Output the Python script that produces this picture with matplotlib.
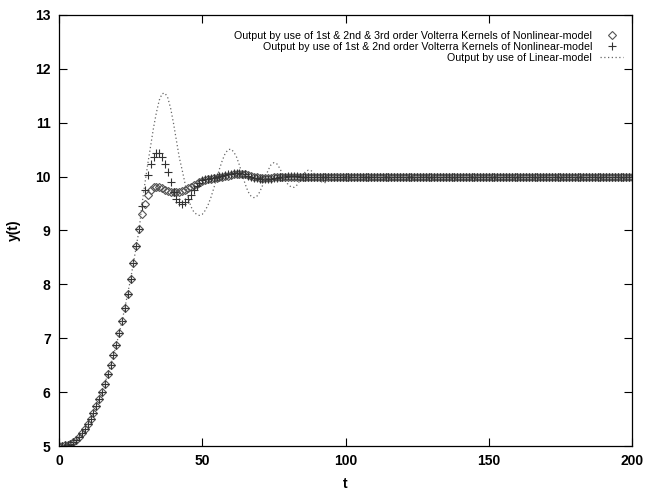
import numpy as np
import matplotlib
matplotlib.use("Agg")
import matplotlib.pyplot as plt

plt.rcParams['font.family'] = ['Liberation Sans', 'DejaVu Sans']

# sample times
t = np.arange(0, 201)

# common start of all three responses, t = 0..28
rise = [5.00, 5.00, 5.01, 5.02, 5.04, 5.07, 5.12, 5.17, 5.24, 5.32,
        5.41, 5.51, 5.62, 5.74, 5.87, 6.01, 6.16, 6.33, 6.50, 6.68,
        6.88, 7.09, 7.32, 7.57, 7.83, 8.10, 8.40, 8.71, 9.03]

# t = 29..110, per model
third_order = [9.30, 9.50, 9.66, 9.75, 9.80, 9.81, 9.80, 9.78, 9.76, 9.74,
               9.72, 9.71, 9.71, 9.72, 9.73, 9.75, 9.78, 9.81, 9.84, 9.87,
               9.90, 9.92, 9.94, 9.95, 9.96, 9.97, 9.98, 9.99, 10.00, 10.01,
               10.02, 10.03, 10.04, 10.05, 10.05, 10.05, 10.04, 10.03, 10.02, 10.00,
               9.99, 9.98, 9.98, 9.98, 9.98, 9.98, 9.99, 9.99, 10.00, 10.00,
               10.00, 10.00, 10.00, 10.00, 10.00, 10.00, 10.00, 10.00, 10.00, 10.00,
               10.00, 10.00, 10.00, 10.00, 10.00, 10.00, 10.00, 10.00, 10.00, 10.00,
               10.00, 10.00, 10.00, 10.00, 10.00, 10.00, 10.00, 10.00, 10.00, 10.00,
               10.00, 10.00]

second_order = [9.45, 9.76, 10.03, 10.23, 10.36, 10.43, 10.43, 10.36, 10.24, 10.08,
                9.90, 9.72, 9.58, 9.52, 9.50, 9.52, 9.58, 9.66, 9.75, 9.83,
                9.89, 9.93, 9.95, 9.96, 9.97, 9.98, 10.00, 10.01, 10.02, 10.03,
                10.04, 10.05, 10.06, 10.06, 10.06, 10.05, 10.04, 10.02, 10.00, 9.98,
                9.97, 9.96, 9.96, 9.96, 9.96, 9.96, 9.97, 9.98, 9.99, 10.00,
                10.00, 10.01, 10.01, 10.01, 10.01, 10.00, 10.00, 10.00, 10.00, 10.00,
                10.00, 10.00, 10.00, 10.00, 10.00, 10.00, 10.00, 10.00, 10.00, 10.00,
                10.00, 10.00, 10.00, 10.00, 10.00, 10.00, 10.00, 10.00, 10.00, 10.00,
                10.00, 10.00]

linear = [9.50, 9.88, 10.24, 10.58, 10.91, 11.19, 11.42, 11.54, 11.55, 11.46,
          11.26, 10.98, 10.66, 10.35, 10.12, 9.87, 9.63, 9.45, 9.35, 9.30,
          9.28, 9.30, 9.37, 9.47, 9.61, 9.78, 9.96, 10.14, 10.30, 10.43,
          10.50, 10.51, 10.46, 10.36, 10.21, 10.03, 9.86, 9.72, 9.64, 9.61,
          9.63, 9.71, 9.83, 9.98, 10.12, 10.22, 10.26, 10.24, 10.16, 10.05,
          9.93, 9.85, 9.81, 9.80, 9.84, 9.92, 10.02, 10.09, 10.12, 10.11,
          10.06, 9.99, 9.93, 9.89, 9.89, 9.92, 9.97, 10.02, 10.05, 10.05,
          10.04, 10.01, 9.98, 9.96, 9.96, 9.97, 9.99, 10.01, 10.02, 10.02,
          10.01, 10.00]

# t = 111..200, all models settled
settled = [10.00, 10.00, 10.00, 10.00, 10.00, 10.00, 10.00, 10.00, 10.00, 10.00,
           10.00, 10.00, 10.00, 10.00, 10.00, 10.00, 10.00, 10.00, 10.00, 10.00,
           10.00, 10.00, 10.00, 10.00, 10.00, 10.00, 10.00, 10.00, 10.00, 10.00,
           10.00, 10.00, 10.00, 10.00, 10.00, 10.00, 10.00, 10.00, 10.00, 10.00,
           10.00, 10.00, 10.00, 10.00, 10.00, 10.00, 10.00, 10.00, 10.00, 10.00,
           10.00, 10.00, 10.00, 10.00, 10.00, 10.00, 10.00, 10.00, 10.00, 10.00,
           10.00, 10.00, 10.00, 10.00, 10.00, 10.00, 10.00, 10.00, 10.00, 10.00,
           10.00, 10.00, 10.00, 10.00, 10.00, 10.00, 10.00, 10.00, 10.00, 10.00,
           10.00, 10.00, 10.00, 10.00, 10.00, 10.00, 10.00, 10.00, 10.00, 10.00]

labels = ["Output by use of 1st & 2nd & 3rd order Volterra Kernels of Nonlinear-model",
          "Output by use of 1st & 2nd order Volterra Kernels of Nonlinear-model",
          "Output by use of Linear-model"]

y3 = np.array(rise + third_order + settled)
y2 = np.array(rise + second_order + settled)
yl = np.array(rise + linear + settled)


def main():
    fig = plt.figure(figsize=(6.58, 4.94), dpi=100)
    ax = fig.add_axes([59/658, 1 - 446/494, (632 - 59)/658, (446 - 15)/494])

    ax.plot(t, y3, linestyle='none', marker='D', ms=4.2, mfc='none',
            mec='#555555', mew=0.8, label=labels[0])
    ax.plot(t, y2, linestyle='none', marker='+', ms=6, mec='#333333',
            mew=0.8, label=labels[1])
    ax.plot(t, yl, linestyle=(0, (1, 2)), lw=0.9, color='#666666', label=labels[2])

    ax.set_xlim(0, 200)
    ax.set_ylim(5, 13)
    ax.set_xticks([0, 50, 100, 150, 200])
    ax.set_yticks(range(5, 14))
    ax.tick_params(direction='in', top=True, right=True, length=6, width=0.8,
                   labelsize=10, pad=6)
    for lab in ax.get_xticklabels() + ax.get_yticklabels():
        lab.set_fontweight('bold')
    for s in ax.spines.values():
        s.set_linewidth(0.9)

    ax.set_xlabel('t', fontsize=10, fontweight='bold', labelpad=6)
    ax.set_ylabel('y(t)', fontsize=10, fontweight='bold', labelpad=10)

    ax.legend(loc='upper right', bbox_to_anchor=(0.998, 0.98), frameon=False,
              markerfirst=False, fontsize=7.7, handlelength=2.2,
              handletextpad=0.7, labelspacing=0.08, borderpad=0.2)

    fig.savefig('out.png', dpi=100)


if __name__ == '__main__':
    main()
